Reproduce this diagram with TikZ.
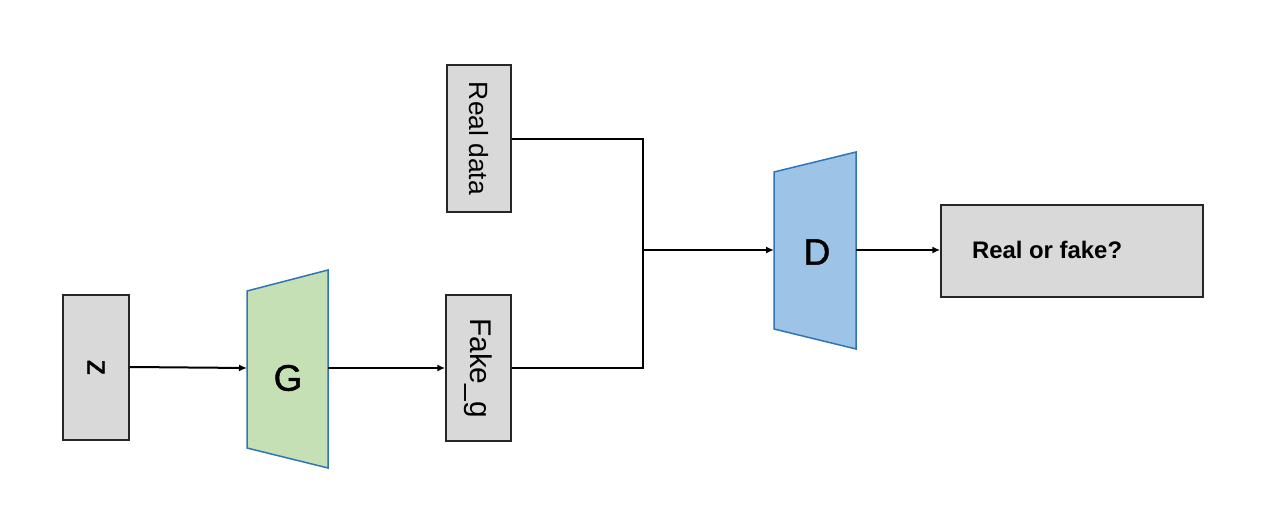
\documentclass[tikz,border=0pt]{standalone}
\usepackage{fontspec}
\setmainfont{Liberation Sans}
\newfontfamily\medfont{Liberation Sans}[FakeBold=1.2]
\usetikzlibrary{arrows.meta}
\definecolor{boxgray}{HTML}{D9D9D9}
\definecolor{boxline}{HTML}{262626}
\definecolor{gfill}{HTML}{C5E0B4}
\definecolor{dfill}{HTML}{9DC3E6}
\definecolor{netline}{HTML}{2E75B6}
\begin{document}
\begin{tikzpicture}[x=1bp,y=-1bp,
  graybox/.style={draw=boxline,fill=boxgray,line width=1.5bp,inner sep=0pt},
  netshape/.style={draw=netline,line width=1.5bp,line join=miter},
  link/.style={draw=black,line width=2bp},
  arrowlink/.style={link,-{Latex[length=8bp,width=7bp]}},
  lbl/.style={font=\medfont\fontsize{37}{37}\selectfont}]
\useasboundingbox (0,0) rectangle (1269,532);

% input boxes
\node[graybox,minimum width=66bp,minimum height=145bp] (z) at (96,367.5)
  {\rotatebox{-90}{\medfont\fontsize{32}{32}\selectfont z}};
\node[graybox,minimum width=65bp,minimum height=146bp] (fake) at (478.5,368)
  {\rotatebox{-90}{\fontsize{30}{30}\selectfont Fake\_g}};
\node[graybox,minimum width=64bp,minimum height=147bp] (real) at (479,138.5)
  {\rotatebox{-90}{\fontsize{26.5}{26.5}\selectfont Real data}};
\node[graybox,minimum width=262bp,minimum height=92bp] (out) at (1072,251)
  {\raisebox{3bp}{\makebox[200bp][l]{\fontsize{24}{24}\selectfont\bfseries Real or fake?}}};

% generator and discriminator
\filldraw[netshape,fill=gfill] (247,291) -- (328,270) -- (328,468) -- (247,448) -- cycle;
\node[lbl] (G) at (288,378) {G};
\coordinate (Gin) at (247,368);
\coordinate (Gout) at (328,368);

\filldraw[netshape,fill=dfill] (774,172) -- (856,152) -- (856,349) -- (774,329) -- cycle;
\node[lbl] (D) at (817,252) {D};
\coordinate (Din) at (774,250);
\coordinate (Dout) at (856,250);

% connectors
\coordinate (merge) at (643,250);
\draw[arrowlink] (z.east |- 0,367) -- (Gin);
\draw[arrowlink] (Gout) -- (fake.west);
\draw[link] (real.east |- 0,139) -| (merge);
\draw[link] (fake.east) -| (merge);
\draw[arrowlink] (merge) -- (Din);
\draw[arrowlink] (Dout) -- (out.west |- Dout);
\end{tikzpicture}
\end{document}
